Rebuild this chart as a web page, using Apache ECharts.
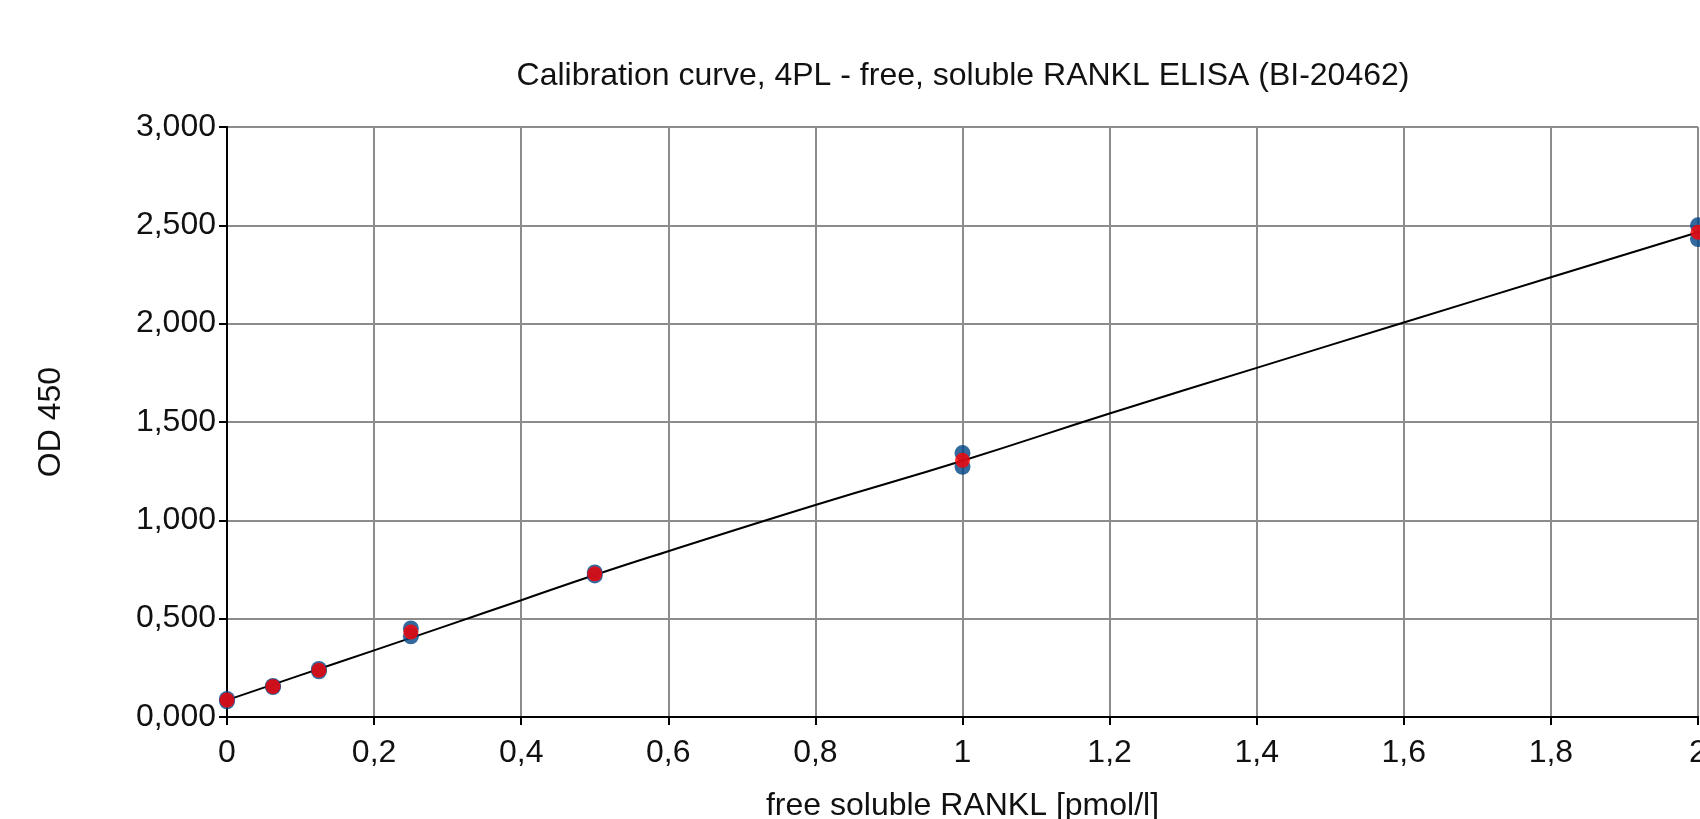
<!DOCTYPE html>
<html>
<head>
<meta charset="utf-8">
<title>Calibration curve</title>
<script src="https://cdn.jsdelivr.net/npm/echarts@6/dist/echarts.min.js"></script>
<style>
html, body { margin: 0; padding: 0; background: #fff; }
#chart { width: 1700px; height: 819px; }
</style>
</head>
<body>
<div id="chart"></div>
<script>
// standard concentrations [pmol/l]
const concentrations = [0, 0.0625, 0.125, 0.25, 0.5, 1, 2];
// OD 450 replicates and mean
const odReplicate1 = [0.092, 0.158, 0.244, 0.450, 0.735, 1.342, 2.500];
const odReplicate2 = [0.080, 0.152, 0.232, 0.410, 0.720, 1.272, 2.430];
const odMean = [0.086, 0.155, 0.238, 0.432, 0.728, 1.305, 2.465];
// fitted 4PL curve
const curveX = [0, 0.1, 0.2, 0.3, 0.4, 0.5, 0.6, 0.8, 1.0, 1.2, 1.4, 1.6, 1.8, 2.0];
const curveY = [0.086, 0.213, 0.339, 0.466, 0.594, 0.722, 0.843, 1.078, 1.303, 1.543, 1.775, 2.006, 2.236, 2.465];

const pairs = (xs, ys) => xs.map((x, i) => [x, ys[i]]);
const font = 'Liberation Sans, Arial, sans-serif';

const chart = echarts.init(document.getElementById('chart'));
chart.setOption({
  backgroundColor: '#fff',
  animation: false,
  title: {
    text: 'Calibration curve, 4PL - free, soluble RANKL ELISA (BI-20462)',
    left: 958, top: 55, textAlign: 'center',
    textStyle: { fontFamily: font, fontSize: 32, fontWeight: 'normal', color: '#111' }
  },
  grid: { left: 227, right: 2, top: 127, bottom: 102, outerBoundsMode: 'none' },
  xAxis: {
    type: 'value', min: 0, max: 2, interval: 0.2,
    name: 'free soluble RANKL [pmol/l]', nameLocation: 'middle', nameGap: 73,
    nameTextStyle: { fontFamily: font, fontSize: 32, color: '#111' },
    axisLine: { show: true, onZero: false, lineStyle: { color: '#000', width: 2 } },
    axisTick: { show: true, length: 8, lineStyle: { color: '#000', width: 2 } },
    axisLabel: {
      margin: 20, fontFamily: font, fontSize: 32, color: '#111',
      formatter: v => String(Number(v.toFixed(1))).replace('.', ',')
    },
    splitLine: { show: true, lineStyle: { color: '#8c8c8c', width: 2 } }
  },
  yAxis: {
    type: 'value', min: 0, max: 3, interval: 0.5,
    name: 'OD 450', nameLocation: 'middle', nameGap: 160,
    nameTextStyle: { fontFamily: font, fontSize: 32, color: '#111' },
    axisLine: { show: true, onZero: false, lineStyle: { color: '#000', width: 2 } },
    axisTick: { show: true, length: 8, lineStyle: { color: '#000', width: 2 } },
    axisLabel: {
      margin: 11, fontFamily: font, fontSize: 32, color: '#111',
      formatter: v => v.toFixed(3).replace('.', ',')
    },
    splitLine: { show: true, lineStyle: { color: '#8c8c8c', width: 2 } }
  },
  series: [
    {
      name: 'fit', type: 'line', data: pairs(curveX, curveY), smooth: true,
      showSymbol: false, lineStyle: { color: '#000', width: 2 }, z: 2
    },
    {
      name: 'replicate 1', type: 'scatter', data: pairs(concentrations, odReplicate1),
      symbol: 'circle', symbolSize: 16, itemStyle: { color: '#004586' }, z: 3
    },
    {
      name: 'replicate 2', type: 'scatter', data: pairs(concentrations, odReplicate2),
      symbol: 'circle', symbolSize: 16, itemStyle: { color: '#004586' }, z: 3
    },
    {
      name: 'mean', type: 'scatter', data: pairs(concentrations, odMean),
      symbol: 'circle', symbolSize: 15, itemStyle: { color: '#ff0000' }, z: 4
    }
  ]
});
</script>
</body>
</html>
